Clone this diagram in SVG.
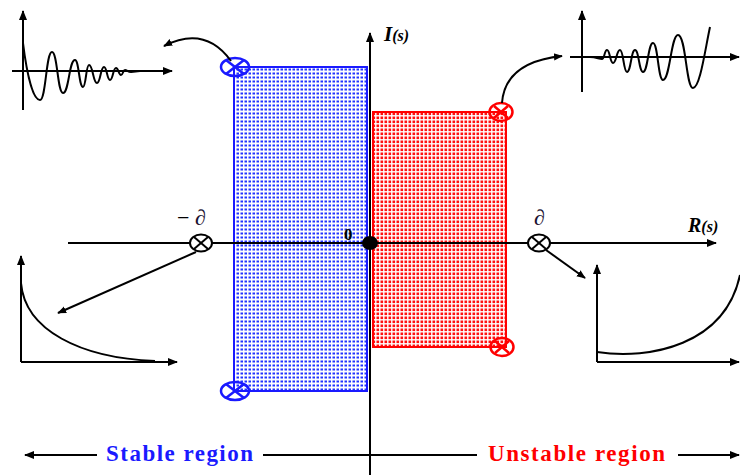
<svg xmlns="http://www.w3.org/2000/svg" width="740" height="475" viewBox="0 0 740 475">
<defs>
<pattern id="pb" width="4" height="4" patternUnits="userSpaceOnUse">
<rect width="4" height="4" fill="#fff"/>
<rect x="0.5" y="0.5" width="2.5" height="2" fill="#2233ff"/>
</pattern>
<pattern id="pr" width="4" height="4" patternUnits="userSpaceOnUse">
<rect width="4" height="4" fill="#fff"/>
<rect x="0.5" y="0.5" width="2.6" height="2.6" fill="#ff1010"/>
</pattern>
<marker id="ah" viewBox="0 0 10 10" refX="9" refY="5" markerWidth="10" markerHeight="10" markerUnits="userSpaceOnUse" orient="auto">
<path d="M0,1 L10,5 L0,9 Z" fill="#000"/>
</marker>
<marker id="ahs" viewBox="0 0 10 10" refX="9" refY="5" markerWidth="9" markerHeight="9" markerUnits="userSpaceOnUse" orient="auto">
<path d="M0,1 L10,5 L0,9 Z" fill="#000"/>
</marker>
</defs>
<style>
.ax{stroke:#000;stroke-width:2;fill:none}
.ln{stroke:#000;stroke-width:2;fill:none}
.wv{stroke:#000;stroke-width:2;fill:none}
.lbl{font-family:"Liberation Serif",serif;font-weight:bold;font-style:italic;fill:#000}
.reg{font-family:"Liberation Serif",serif;font-weight:bold;font-size:23px}
</style>
<rect width="740" height="475" fill="#fff"/>

<g id="stable-region">
<rect x="234" y="67" width="133" height="324" fill="url(#pb)" stroke="#1a1aff" stroke-width="2"/>
</g>
<g id="unstable-region">
<rect x="373" y="112" width="133" height="235" fill="url(#pr)" stroke="#ff0000" stroke-width="2"/>
</g>

<g id="axes">
<line class="ax" x1="68" y1="243" x2="716" y2="243" marker-end="url(#ah)"/>
<line class="ax" x1="370" y1="475" x2="370" y2="33" marker-end="url(#ah)"/>
<text class="lbl" x="384" y="41" font-size="21">I<tspan font-size="16">(s)</tspan></text>
<text class="lbl" x="688" y="232" font-size="20">R<tspan font-size="16">(s)</tspan></text>
<ellipse cx="370" cy="243" rx="8" ry="7" fill="#000"/>
<text x="344" y="240" font-family="Liberation Serif,serif" font-weight="bold" font-size="17">0</text>
</g>

<g id="pole-neg">
<ellipse cx="201" cy="243" rx="11" ry="8.5" fill="#fff" stroke="#000" stroke-width="2"/>
<line x1="194" y1="237" x2="208" y2="249" stroke="#000" stroke-width="2"/>
<line x1="208" y1="237" x2="194" y2="249" stroke="#000" stroke-width="2"/>
<text x="177" y="225" font-family="Liberation Serif,serif" font-size="22">− <tspan font-style="italic" fill="#1a1030">∂</tspan></text>
</g>
<g id="pole-pos">
<ellipse cx="539" cy="243" rx="11" ry="8.5" fill="#fff" stroke="#000" stroke-width="2"/>
<line x1="532" y1="237" x2="546" y2="249" stroke="#000" stroke-width="2"/>
<line x1="546" y1="237" x2="532" y2="249" stroke="#000" stroke-width="2"/>
<text x="534" y="225" font-family="Liberation Serif,serif" font-size="22" font-style="italic" fill="#1a1030">∂</text>
</g>

<g id="blue-pole-top">
<ellipse cx="235" cy="67" rx="14" ry="9" fill="none" stroke="#1a1aff" stroke-width="2.5"/>
<line x1="226" y1="60" x2="244" y2="74" stroke="#1a1aff" stroke-width="2.5"/>
<line x1="244" y1="60" x2="226" y2="74" stroke="#1a1aff" stroke-width="2.5"/>
</g>
<g id="blue-pole-bottom">
<ellipse cx="235" cy="391" rx="14" ry="9" fill="none" stroke="#1a1aff" stroke-width="2.5"/>
<line x1="226" y1="384" x2="244" y2="398" stroke="#1a1aff" stroke-width="2.5"/>
<line x1="244" y1="384" x2="226" y2="398" stroke="#1a1aff" stroke-width="2.5"/>
</g>
<g id="red-pole-top">
<ellipse cx="501" cy="112" rx="11.5" ry="9" fill="none" stroke="#ff0000" stroke-width="2.5"/>
<line x1="494" y1="106" x2="508" y2="118" stroke="#ff0000" stroke-width="2.5"/>
<line x1="508" y1="106" x2="494" y2="118" stroke="#ff0000" stroke-width="2.5"/>
</g>
<g id="red-pole-bottom">
<ellipse cx="502" cy="347" rx="11.5" ry="9" fill="none" stroke="#ff0000" stroke-width="2.5"/>
<line x1="495" y1="341" x2="509" y2="353" stroke="#ff0000" stroke-width="2.5"/>
<line x1="509" y1="341" x2="495" y2="353" stroke="#ff0000" stroke-width="2.5"/>
</g>

<g id="wave-damped">
<line class="ax" x1="23" y1="110" x2="23" y2="11" marker-end="url(#ah)"/>
<line class="ax" x1="12" y1="71" x2="172" y2="71" marker-end="url(#ah)"/>
<path class="wv" d="M23,43 C27,75 33,100 40,100 C46,100 46,52 52,52 C57.5,52 57.5,93 63,93 C69,93 69,60 75,60 C79,60 79,87 83,87 C86,87 86,65 89,65 C93,65 93,83 97,83 C100.5,83 100.5,67 104,67 C107,67 107,80 110,80 C113,80 113,68 116,68 C118.5,68 118.5,75 121,75 C123,75 123,70 125,70 C127,70 128,72 131,72 L140,71"/>
</g>
<g id="wave-growing">
<line class="ax" x1="582" y1="92" x2="582" y2="11" marker-end="url(#ah)"/>
<line class="ax" x1="570" y1="57" x2="739" y2="57" marker-end="url(#ah)"/>
<path class="wv" d="M590,57 C596,57 599,59 602,59 C604.5,59 604.5,50 607,50 C610,50 610,63 613,63 C616.5,63 616.5,50 620,50 C623.5,50 623.5,72 627,72 C631,72 631,50 635,50 C639,50 639,72 643,72 C648,72 648,43 653,43 C658,43 658,80 663,80 C670,80 671,35 678,35 C686,35 686,88 693,88 C700,88 705,50 710,27"/>
</g>
<g id="decay-plot">
<line class="ax" x1="21" y1="362" x2="21" y2="256" marker-end="url(#ah)"/>
<line class="ax" x1="21" y1="362" x2="177" y2="362" marker-end="url(#ah)"/>
<path class="wv" d="M21,283 C25,330 80,358 155,361"/>
</g>
<g id="growth-plot">
<line class="ax" x1="597" y1="362" x2="597" y2="265" marker-end="url(#ah)"/>
<line class="ax" x1="597" y1="362" x2="739" y2="362" marker-end="url(#ah)"/>
<path class="wv" d="M597,352 C650,360 725,345 740,275"/>
</g>

<g id="connectors">
<path class="ln" d="M231,61 Q205,25 164,46" marker-end="url(#ahs)"/>
<path class="ln" d="M502,103 Q505,62 562,56" marker-end="url(#ahs)"/>
<line class="ln" x1="196" y1="252" x2="58" y2="313" marker-end="url(#ahs)"/>
<line class="ln" x1="546" y1="250" x2="585" y2="278" marker-end="url(#ahs)"/>
<line class="ln" x1="97" y1="455" x2="25" y2="455" marker-end="url(#ah)"/>
<line class="ln" x1="263" y1="455" x2="477" y2="455"/>
<line class="ln" x1="678" y1="455" x2="739" y2="455" marker-end="url(#ah)"/>
</g>

<g id="labels">
<text class="reg" x="106" y="461" fill="#1a1aff" textLength="147" lengthAdjust="spacing">Stable region</text>
<text class="reg" x="488" y="461" fill="#ff0000" textLength="177" lengthAdjust="spacing">Unstable region</text>
</g>
</svg>
